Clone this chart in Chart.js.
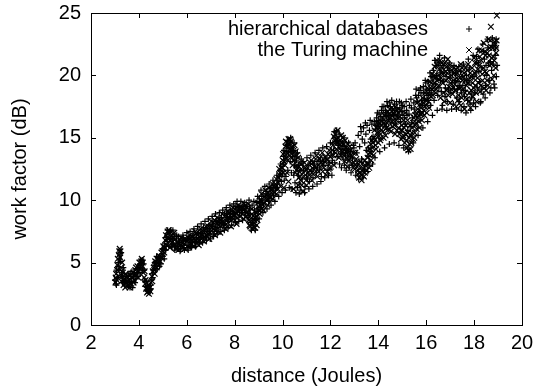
<!DOCTYPE html>
<html>
<head>
<meta charset="utf-8">
<script src="https://cdn.jsdelivr.net/npm/chart.js@4/dist/chart.umd.min.js"></script>
<style>
  html, body { margin: 0; padding: 0; background: #fff; }
  #wrap { width: 536px; height: 391px; }
</style>
</head>
<body>
<div id="wrap"><canvas id="chart" width="536" height="391"></canvas></div>
<script>
// axis setup
const xRange = [2, 20];
const yRange = [0, 25];
const xStep = 2;
const yStep = 5;
const xTitle = 'distance (Joules)';
const yTitle = 'work factor (dB)';
const seriesNames = ['hierarchical databases', 'the Turing machine'];

// "+" series
const hierPoints = [
  [3.0,3.6],[3.04,3.3],[3.07,4.4],[3.11,3.8],[3.14,5.0],[3.17,4.4],[3.21,5.6],[3.24,5.1],[3.28,4.0],[3.31,3.4],[3.35,4.6],[3.38,3.6],[3.42,3.2],[3.46,3.9],
  [3.5,3.3],[3.54,3.7],[3.58,3.1],[3.62,3.4],[3.66,3.9],[3.7,3.5],[3.74,3.0],[3.78,3.9],[3.82,4.1],[3.87,3.7],[3.92,4.5],[3.96,3.9],[4.0,4.6],[4.04,4.2],[4.08,4.8],[4.12,5.0],
  [4.16,4.5],[4.2,4.9],[4.24,3.6],[4.28,3.1],[4.32,2.8],[4.36,3.2],[4.4,2.7],[4.44,2.8],[4.48,3.2],[4.52,3.6],[4.56,4.1],[4.6,4.4],[4.64,4.8],[4.68,4.4],
  [4.72,5.0],[4.76,4.5],[4.8,5.4],[4.84,5.0],[4.88,5.3],[4.92,4.9],[4.96,5.7],[5.0,5.5],[5.04,6.0],[5.08,6.5],[5.12,6.0],[5.15,7.0],[5.18,6.7],[5.22,7.3],[5.25,6.4],[5.29,6.9],[5.32,7.6],[5.36,6.3],[5.4,6.9],[5.44,6.5],[5.48,7.1],[5.52,6.4],[5.57,6.8],
  [5.62,6.3],[5.68,6.5],[5.74,6.1],[5.8,6.9],[5.88,6.4],[5.95,6.8],[6.02,6.2],[6.1,6.8],[6.18,6.6],[6.25,7.2],[6.33,6.7],[6.4,7.0],[6.48,7.4],[6.55,6.9],[6.63,7.3],[6.7,7.8],[6.78,7.1],[6.85,7.5],[6.93,8.0],[7.0,7.3],
  [7.08,7.9],[7.15,7.5],[7.23,8.3],[7.3,7.8],[7.38,8.2],[7.45,8.6],[7.53,8.0],[7.6,8.4],[7.68,8.9],[7.75,8.3],[7.83,8.7],[7.9,9.1],[7.98,8.5],[8.05,9.0],[8.13,9.4],[8.2,8.8],[8.28,9.2],[8.35,9.6],[8.43,9.0],
  [8.5,9.5],[8.57,8.8],[8.62,9.3],[8.68,8.2],[8.73,9.6],[8.78,8.0],[8.83,9.2],[8.88,8.5],[8.93,9.8],[8.98,9.1],[9.03,10.1],[9.08,9.4],[9.13,10.3],[9.2,9.6],[9.27,10.0],[9.34,10.7],[9.41,9.9],[9.48,10.5],[9.55,11.0],[9.62,10.4],[9.7,10.8],[9.78,11.3],
  [9.85,11.6],[9.9,12.4],[9.95,11.5],[10.0,12.1],[10.03,12.9],[10.07,11.6],[10.1,13.2],[10.14,11.9],[10.18,13.9],[10.22,12.4],[10.27,14.2],[10.32,13.1],[10.37,12.2],[10.42,13.5],[10.47,12.0],[10.52,11.4],[10.57,12.6],[10.62,11.0],[10.67,12.0],[10.72,11.3],[10.77,10.8],[10.82,11.7],
  [10.88,12.4],[10.94,11.1],[11.0,12.0],[11.06,12.8],[11.12,11.5],[11.2,12.3],[11.27,11.8],[11.34,12.9],[11.41,12.2],[11.48,13.1],[11.55,12.5],[11.62,11.9],[11.7,12.8],[11.78,13.4],[11.86,12.4],[11.94,13.0],
  [12.02,12.5],[12.08,13.2],[12.13,14.0],[12.18,13.0],[12.23,14.7],[12.28,13.5],[12.33,14.4],[12.38,12.9],[12.43,13.7],[12.48,14.1],[12.53,13.3],[12.58,12.8],[12.63,13.6],[12.68,14.0],[12.73,13.2],[12.78,12.6],[12.85,13.9],[12.92,13.3],[12.98,14.2],
  [13.03,14.6],[13.1,13.8],[13.12,12.9],[13.16,15.2],[13.22,14.3],[13.28,15.5],[13.33,14.9],[13.38,15.8],[13.42,12.5],[13.43,14.6],[13.48,15.3],[13.53,16.0],[13.58,14.2],[13.63,15.6],[13.68,14.9],[13.73,16.1],[13.78,15.1],
  [13.83,16.3],[13.88,15.7],[13.93,16.6],[13.98,15.9],[14.03,16.9],[14.08,16.1],[14.13,17.2],[14.18,16.4],[14.23,17.5],[14.28,16.7],[14.33,15.9],[14.38,17.6],[14.43,16.5],[14.48,17.8],[14.53,16.2],[14.58,17.3],[14.63,16.8],[14.68,17.7],[14.73,16.1],[14.78,17.4],[14.83,16.6],[14.88,17.9],[14.93,16.3],[14.98,17.1],
  [15.03,16.8],[15.08,17.5],[15.13,16.1],[15.18,17.2],[15.23,15.6],[15.28,16.9],[15.33,15.9],[15.38,17.4],[15.43,16.6],[15.48,17.8],[15.53,17.0],[15.58,18.9],[15.63,17.9],[15.68,18.4],[15.73,17.1],[15.78,18.6],[15.83,17.6],[15.88,19.1],[15.93,18.1],[15.98,19.4],[16.03,18.4],[16.08,18.0],[16.13,18.8],[16.18,17.6],
  [16.23,18.6],[16.28,19.8],[16.33,18.0],[16.38,19.3],[16.43,20.0],[16.48,18.4],[16.53,19.0],[16.58,20.2],[16.63,18.7],[16.68,17.6],[16.73,19.5],[16.78,18.3],[16.83,19.9],[16.88,17.9],[16.93,18.9],[16.98,20.4],[17.03,18.6],[17.08,19.4],[17.13,17.7],
  [17.18,18.9],[17.23,20.1],[17.28,18.2],[17.33,19.5],[17.38,17.9],[17.43,20.3],[17.48,18.6],[17.53,19.2],[17.58,17.5],[17.63,18.8],[17.68,20.0],[17.73,18.0],[17.78,19.4],[17.83,17.7],[17.88,18.5],[17.93,19.9],[17.98,17.8],
  [18.03,18.6],[18.08,20.2],[18.13,19.0],[18.18,21.0],[18.23,19.5],[18.28,17.9],[18.33,20.6],[18.38,18.5],[18.43,21.3],[18.48,19.2],[18.53,20.0],[18.58,22.2],[18.63,19.6],[18.68,21.1],[18.73,20.4],[18.78,22.4],[18.83,19.3],[18.88,21.6],[18.93,19.9],[18.96,20.8],
  // band edges
  [3.06,3.2],[3.13,4.7],[3.19,5.3],[3.26,5.8],[3.32,3.9],[3.44,3.5],[3.55,4.1],[3.63,3.0],[3.71,4.3],[3.84,3.4],[3.95,4.2],[4.06,5.2],
  [4.14,5.2],[4.22,4.4],[4.3,3.5],[4.42,3.1],[4.5,2.9],[4.58,3.8],[4.66,5.0],
  [4.74,5.5],[4.86,4.7],[4.98,6.1],[5.06,5.3],[5.14,6.3],[5.2,7.6],[5.28,7.5],[5.34,6.9],[5.42,7.6],[5.5,6.0],[5.58,7.2],
  [5.66,7.1],[5.72,5.9],[5.84,7.2],[5.9,6.0],[6.0,7.4],[6.06,6.0],[6.14,7.5],[6.2,6.2],[6.3,7.7],[6.36,6.3],[6.45,7.9],[6.52,6.5],[6.6,8.1],[6.66,6.6],[6.76,8.3],[6.82,6.8],[6.9,8.5],[6.98,6.9],
  [7.06,8.7],[7.12,7.1],[7.2,8.9],[7.27,7.3],[7.36,9.0],[7.42,7.5],[7.5,9.2],[7.57,7.6],[7.65,9.4],[7.72,7.8],[7.8,9.6],[7.87,8.0],[7.96,9.7],[8.03,8.2],[8.1,9.9],[8.17,8.3],[8.26,9.9],[8.33,8.4],[8.42,9.8],
  [8.52,8.6],[8.6,10.0],[8.7,7.6],[8.8,9.9],[8.86,7.6],[8.96,10.3],[9.02,8.5],[9.1,10.8],[9.18,9.0],[9.26,11.1],[9.35,9.3],[9.44,11.3],[9.52,9.6],[9.6,11.6],[9.68,9.9],[9.76,12.0],
  [9.84,10.3],[9.92,12.9],[9.98,10.6],[10.06,14.0],[10.12,10.8],[10.2,14.8],[10.28,11.0],[10.34,15.0],[10.4,10.9],[10.48,14.6],[10.56,10.6],[10.62,13.8],[10.7,10.5],[10.78,13.3],
  [10.86,13.1],[10.92,10.6],[11.02,13.4],[11.1,10.9],[11.18,13.6],[11.26,11.1],[11.36,13.8],[11.44,11.3],[11.52,14.0],[11.6,11.5],[11.68,14.2],[11.76,11.8],[11.84,14.3],[11.92,12.0],
  [12.0,14.6],[12.06,12.0],[12.16,15.5],[12.26,15.6],[12.36,15.3],[12.46,12.6],[12.56,15.0],[12.66,12.4],[12.76,14.6],[12.86,12.2],[12.96,14.4],
  [13.06,12.0],[13.18,11.7],[13.26,15.9],[13.36,11.8],[13.46,16.2],[13.56,12.3],[13.66,16.4],[13.76,12.9],
  [13.86,13.4],[13.96,17.0],[14.06,13.9],[14.16,17.5],[14.26,14.2],[14.36,17.9],[14.46,14.5],[14.56,18.0],[14.66,14.6],[14.76,17.9],[14.86,14.4],[14.96,17.8],
  [15.06,14.2],[15.16,17.9],[15.26,13.9],[15.36,18.1],[15.46,14.6],[15.56,18.4],[15.66,15.2],[15.76,19.0],[15.86,15.8],[15.96,19.6],[16.06,16.3],[16.16,20.2],
  [16.26,16.8],[16.36,21.2],[16.46,17.2],[16.56,21.6],[16.66,17.3],[16.76,21.4],[16.86,17.2],[16.96,21.0],[17.06,17.3],[17.16,20.8],
  [17.26,17.3],[17.36,20.7],[17.46,17.2],[17.56,20.9],[17.66,17.0],[17.76,21.3],[17.86,17.2],[17.96,21.6],
  [18.06,17.5],[18.16,22.1],[18.26,17.8],[18.36,22.5],[18.46,18.2],[18.56,22.9],[18.66,18.6],[18.76,23.0],[18.86,19.0],[18.92,22.9],
  // band fill
  [5.7,6.6],[5.86,6.8],[6.04,6.9],[6.16,6.3],[6.28,7.0],[6.42,6.6],[6.56,7.3],[6.7,7.0],[6.84,7.7],[6.96,7.6],[7.1,8.1],[7.22,7.7],[7.34,8.4],[7.46,8.1],[7.58,8.9],[7.7,8.6],[7.82,9.2],[7.94,8.9],[8.06,9.5],[8.18,9.4],[8.3,9.0],[8.4,9.5],
  [8.64,8.9],[8.76,8.5],[8.86,8.9],[8.94,9.3],[9.06,9.9],[9.16,9.8],[9.3,10.5],[9.4,10.4],[9.5,10.9],[9.64,11.2],[9.74,11.0],
  [9.88,11.9],[9.98,12.7],[10.04,13.5],[10.16,14.4],[10.24,13.8],[10.3,14.6],[10.36,13.9],[10.44,14.0],[10.5,12.8],[10.58,13.2],[10.66,12.8],[10.74,12.4],
  [11.04,11.7],[11.16,12.9],[11.3,12.6],[11.46,12.6],[11.58,13.2],[11.72,13.1],[11.9,12.8],
  [12.1,14.6],[12.2,15.0],[12.3,14.8],[12.4,14.4],[12.5,14.6],[12.6,14.3],[12.7,13.8],[12.82,13.5],[12.94,12.8],
  [13.3,13.3],[13.5,14.0],[13.6,13.5],[13.7,13.9],
  [13.9,16.0],[14.0,16.4],[14.1,16.7],[14.2,17.0],[14.3,17.2],[14.4,16.8],[14.5,17.5],[14.6,17.0],[14.7,17.2],[14.8,16.9],[14.9,17.4],[15.0,17.6],
  [15.1,16.6],[15.2,16.8],[15.3,17.6],[15.4,16.2],[15.5,17.3],[15.6,18.2],[15.7,18.8],[15.8,18.0],[15.9,18.6],[16.0,18.9],[16.1,19.5],[16.2,19.9],
  [16.3,20.4],[16.4,20.8],[16.5,21.0],[16.6,19.6],[16.7,20.8],[16.8,19.0],[16.9,20.6],[17.0,19.8],[17.1,20.2],[17.2,19.6],
  [17.3,18.9],[17.4,19.2],[17.5,19.9],[17.6,18.3],[17.7,19.6],[17.8,20.6],[17.9,18.2],[18.0,19.9],
  [18.1,21.5],[18.2,20.3],[18.3,18.9],[18.4,21.9],[18.5,20.8],[18.6,21.0],[18.7,19.0],[18.8,20.9],[18.9,22.2]
];

// "x" series
const turingPoints = [
  [3.02,3.4],[3.05,4.1],[3.08,3.6],[3.1,4.8],[3.12,5.3],[3.15,3.9],[3.18,5.9],[3.2,6.1],[3.22,5.4],[3.25,4.6],[3.27,3.5],[3.3,5.0],[3.33,4.2],[3.36,3.2],[3.4,3.7],[3.43,3.0],[3.47,3.4],
  [3.52,3.9],[3.56,3.2],[3.6,3.6],[3.64,4.0],[3.68,3.3],[3.72,3.8],[3.76,4.2],[3.8,3.6],[3.85,4.4],[3.9,4.0],[3.94,4.7],[3.98,4.3],[4.02,5.0],[4.06,4.5],[4.1,5.1],
  [4.14,4.7],[4.18,4.2],[4.22,3.8],[4.26,3.3],[4.3,2.9],[4.34,2.6],[4.38,2.7],[4.42,2.5],[4.46,3.0],[4.5,3.4],[4.54,3.9],[4.58,4.3],[4.62,4.6],[4.66,4.1],[4.7,4.9],
  [4.74,4.6],[4.78,5.2],[4.82,4.8],[4.86,5.5],[4.9,5.1],[4.94,5.8],[4.98,5.4],[5.02,6.3],[5.06,5.8],[5.1,6.8],[5.13,7.2],[5.16,6.4],[5.2,7.5],[5.23,6.9],[5.27,7.4],[5.3,6.2],[5.34,7.1],[5.38,6.6],[5.42,7.3],[5.46,6.3],[5.5,6.9],[5.55,6.1],[5.6,6.6],
  [5.65,6.0],[5.7,6.8],[5.78,6.3],[5.85,6.6],[5.92,6.1],[6.0,6.7],[6.08,6.4],[6.15,7.0],[6.22,6.5],[6.3,6.9],[6.38,7.3],[6.45,6.7],[6.52,7.1],[6.6,7.5],[6.68,7.0],[6.75,7.6],[6.82,7.2],[6.9,7.9],[6.97,7.4],
  [7.05,7.8],[7.12,8.2],[7.2,7.6],[7.28,8.1],[7.35,8.5],[7.42,7.9],[7.5,8.3],[7.58,8.7],[7.65,8.1],[7.72,8.6],[7.8,9.0],[7.88,8.4],[7.95,8.8],[8.02,9.3],[8.1,8.6],[8.18,9.1],[8.25,9.5],[8.32,8.9],[8.4,9.3],[8.48,8.7],
  [8.55,9.1],[8.6,8.4],[8.65,7.9],[8.7,8.6],[8.75,7.7],[8.8,8.2],[8.85,7.8],[8.9,9.0],[8.95,8.4],[9.0,9.5],[9.05,8.9],[9.1,10.0],[9.15,9.3],[9.22,9.8],[9.3,10.4],[9.38,9.6],[9.45,10.2],[9.52,10.8],[9.6,10.1],[9.68,11.0],[9.75,10.5],[9.82,11.4],
  [9.88,12.0],[9.92,11.1],[9.96,12.6],[10.0,13.2],[10.04,12.2],[10.05,11.0],[10.08,13.8],[10.12,14.3],[10.16,13.4],[10.2,14.6],[10.25,14.9],[10.25,11.5],[10.3,14.1],[10.35,14.7],[10.4,13.7],[10.45,14.3],[10.45,10.9],[10.5,13.2],[10.55,13.9],[10.6,12.8],[10.65,13.4],[10.65,11.2],[10.7,12.3],[10.75,11.6],[10.8,12.9],[10.85,10.7],
  [10.9,11.9],[10.95,12.6],[11.0,11.2],[11.08,12.2],[11.15,13.0],[11.22,11.6],[11.3,12.5],[11.38,13.3],[11.45,11.9],[11.52,12.8],[11.6,13.5],[11.68,12.3],[11.75,13.1],[11.82,12.0],[11.9,13.7],[11.97,12.6],
  [12.05,13.6],[12.1,14.4],[12.15,12.8],[12.2,15.3],[12.25,14.1],[12.3,15.6],[12.35,13.4],[12.4,14.8],[12.45,15.2],[12.5,13.9],[12.55,14.5],[12.6,13.1],[12.65,14.2],[12.7,12.7],[12.75,13.6],[12.8,14.3],[12.88,12.9],[12.95,13.8],
  [13.02,12.5],[13.08,13.3],[13.14,12.1],[13.2,11.8],[13.25,12.6],[13.3,11.6],[13.35,12.3],[13.4,11.9],[13.45,12.8],[13.5,12.4],[13.55,13.4],[13.6,12.9],[13.65,13.8],[13.7,13.2],[13.75,14.2],
  [13.8,13.6],[13.85,14.8],[13.9,14.1],[13.95,15.4],[14.0,14.6],[14.05,15.8],[14.1,15.0],[14.15,16.3],[14.2,15.5],[14.25,16.8],[14.3,15.2],[14.35,16.2],[14.4,17.1],[14.45,15.7],[14.5,16.6],[14.55,17.4],[14.6,15.9],[14.65,16.9],[14.7,15.3],[14.75,16.4],[14.8,17.2],[14.85,15.8],[14.9,16.7],[14.95,14.9],
  [15.0,15.6],[15.05,16.4],[15.1,14.6],[15.15,15.3],[15.2,14.2],[15.25,14.0],[15.3,14.5],[15.35,14.1],[15.4,15.4],[15.45,16.2],[15.5,15.0],[15.55,16.8],[15.6,15.7],[15.65,17.3],[15.7,16.3],[15.75,17.7],[15.8,16.9],[15.85,18.2],[15.9,17.2],[15.95,18.6],[16.0,17.6],[16.05,19.0],[16.1,17.9],[16.15,19.5],[16.2,18.3],
  [16.25,20.1],[16.3,19.0],[16.35,20.7],[16.4,18.6],[16.45,21.2],[16.5,19.7],[16.55,20.5],[16.6,18.2],[16.65,21.0],[16.7,19.4],[16.75,17.9],[16.8,20.3],[16.85,18.8],[16.9,21.3],[16.95,19.1],[17.0,17.8],[17.05,20.0],[17.1,18.5],[17.15,20.6],
  [17.2,19.3],[17.25,17.5],[17.3,20.2],[17.35,18.4],[17.4,19.8],[17.45,17.6],[17.5,20.6],[17.55,18.9],[17.6,17.3],[17.65,19.6],[17.7,18.1],[17.75,20.9],[17.8,18.6],[17.85,17.4],[17.9,19.9],[17.95,18.3],
  [18.0,21.4],[18.05,19.2],[18.1,17.9],[18.15,20.5],[18.2,22.0],[18.25,18.7],[18.3,21.2],[18.35,19.6],[18.4,22.6],[18.45,20.3],[18.5,18.8],[18.55,21.8],[18.6,22.9],[18.65,20.8],[18.7,22.3],[18.75,19.7],[18.8,21.5],[18.85,22.7],[18.9,20.6],[18.7,23.9],[18.95,24.8],
  // band body
  [3.03,3.8],[3.09,4.4],[3.16,5.6],[3.23,5.9],[3.29,4.3],[3.35,3.6],[3.45,4.1],[3.53,3.5],[3.61,3.0],[3.69,4.1],[3.78,3.4],[3.88,4.6],[3.97,3.8],[4.05,4.7],[4.12,5.3],
  [4.16,5.0],[4.24,4.3],[4.28,3.6],[4.36,2.9],[4.4,3.2],[4.48,2.7],[4.56,3.5],[4.64,4.4],[4.68,5.1],
  [4.8,5.0],[4.92,5.4],[5.0,5.9],[5.08,6.2],[5.18,7.0],[5.25,7.6],[5.32,6.8],[5.4,6.4],[5.48,7.4],[5.58,6.3],
  [5.68,6.5],[5.76,7.0],[5.82,6.2],[5.96,6.9],[6.04,6.3],[6.12,7.2],[6.2,6.8],[6.28,6.3],[6.36,7.5],[6.44,6.9],[6.5,6.4],[6.58,7.7],[6.64,7.2],[6.72,6.7],[6.8,7.9],[6.88,7.3],[6.94,6.9],
  [7.02,8.3],[7.1,7.7],[7.18,7.2],[7.26,8.6],[7.32,8.0],[7.4,7.4],[7.48,8.9],[7.55,8.2],[7.62,7.7],[7.7,9.1],[7.78,8.5],[7.85,7.9],[7.92,9.4],[8.0,8.8],[8.08,8.1],[8.15,9.6],[8.22,8.7],[8.3,9.4],[8.38,8.5],[8.45,9.6],
  [8.52,9.4],[8.58,9.7],[8.66,8.3],[8.72,9.3],[8.78,7.9],[8.84,8.6],[8.92,8.0],[8.98,9.8],[9.06,9.6],[9.12,10.5],[9.2,9.2],[9.28,10.8],[9.36,10.0],[9.43,11.0],[9.5,10.2],[9.58,11.3],[9.66,10.6],[9.74,11.7],[9.8,10.9],
  [9.86,12.5],[9.94,12.1],[10.02,13.7],[10.1,12.8],[10.14,14.7],[10.18,12.2],[10.22,14.3],[10.28,13.6],[10.32,14.9],[10.38,14.2],[10.42,12.8],[10.5,14.4],[10.54,12.2],[10.6,13.6],[10.68,11.8],[10.74,12.9],[10.8,11.2],
  [10.86,12.2],[10.92,13.0],[10.98,11.6],[11.04,12.6],[11.12,12.0],[11.2,13.2],[11.28,12.1],[11.35,12.7],[11.42,13.6],[11.5,12.3],[11.58,13.0],[11.66,13.8],[11.72,12.6],[11.8,13.4],[11.88,12.3],[11.95,14.0],
  [12.02,13.0],[12.12,13.6],[12.18,14.8],[12.22,13.8],[12.28,14.6],[12.32,15.0],[12.38,14.2],[12.42,13.6],[12.48,14.6],[12.52,15.0],[12.58,14.0],[12.62,14.8],[12.68,13.4],[12.72,14.5],[12.78,13.2],[12.84,14.0],[12.9,13.5],[12.98,13.0],
  [13.04,13.8],[13.1,12.7],[13.16,12.4],[13.22,12.2],[13.28,12.0],[13.32,12.9],[13.38,12.5],[13.44,12.2],[13.52,13.0],[13.58,13.7],[13.62,12.6],[13.68,14.5],[13.72,13.7],[13.78,14.6],
  [13.82,15.0],[13.88,14.4],[13.92,15.8],[13.98,15.1],[14.02,16.2],[14.08,14.8],[14.12,15.6],[14.18,16.6],[14.22,15.0],[14.28,16.0],[14.32,16.9],[14.38,15.6],[14.42,16.4],[14.48,17.3],[14.52,15.5],[14.58,16.3],[14.62,17.0],[14.68,16.0],[14.72,17.5],[14.78,15.6],[14.82,16.6],[14.88,15.3],[14.92,17.2],[14.98,16.0],
  [15.02,15.0],[15.08,15.8],[15.12,17.0],[15.18,14.8],[15.22,16.4],[15.28,15.0],[15.32,16.0],[15.38,14.6],[15.42,15.8],[15.48,16.6],[15.52,15.4],[15.58,16.2],[15.62,17.8],[15.68,16.8],[15.72,15.8],[15.78,17.4],[15.82,16.4],[15.88,17.8],[15.92,16.8],[15.98,18.0],[16.02,17.0],[16.08,18.6],[16.12,17.4],[16.18,19.0],
  [16.22,19.4],[16.28,18.4],[16.32,20.0],[16.38,19.8],[16.42,18.9],[16.48,20.8],[16.52,19.2],[16.58,21.2],[16.62,19.8],[16.68,20.6],[16.72,18.6],[16.78,21.0],[16.82,19.6],[16.88,20.2],[16.92,18.4],[16.98,20.8],[17.02,19.4],[17.08,20.4],[17.12,19.0],[17.18,20.2],
  [17.22,18.8],[17.28,19.8],[17.32,18.0],[17.38,20.4],[17.42,19.0],[17.48,18.2],[17.52,19.6],[17.58,20.2],[17.62,18.6],[17.68,19.2],[17.72,20.4],[17.78,17.9],[17.82,19.8],[17.88,18.8],[17.92,20.6],[17.98,19.0],
  [18.02,20.2],[18.08,18.6],[18.12,21.0],[18.18,19.4],[18.22,20.8],[18.28,19.2],[18.32,22.0],[18.38,20.6],[18.42,19.0],[18.48,21.6],[18.52,20.2],[18.58,19.2],[18.62,21.6],[18.68,22.8],[18.72,20.9],[18.78,22.2],[18.82,20.0],[18.88,22.5],[18.92,21.8],[18.94,22.8],
  // band fill
  [5.74,6.4],[5.9,6.9],[6.06,7.0],[6.24,7.1],[6.4,7.4],[6.54,6.8],[6.7,7.5],[6.86,7.1],[7.0,7.9],[7.16,8.4],[7.3,7.5],[7.44,8.4],[7.6,8.0],[7.74,8.9],[7.9,8.6],[8.04,9.0],[8.2,9.3],[8.36,9.2],[8.5,9.0],
  [8.62,8.0],[8.72,8.9],[8.82,8.4],[8.92,8.7],[9.02,9.2],[9.14,9.9],[9.26,10.3],[9.4,10.1],[9.54,10.6],[9.7,11.3],[9.84,11.8],
  [9.9,12.2],[10.0,12.6],[10.06,13.1],[10.14,13.6],[10.22,13.2],[10.28,14.5],[10.36,14.0],[10.44,13.2],[10.52,13.6],[10.58,12.4],[10.64,12.6],[10.72,11.9],[10.78,12.5],
  [11.0,12.4],[11.14,12.4],[11.26,13.0],[11.4,12.6],[11.54,13.3],[11.7,12.9],[11.86,13.2],[11.98,13.5],
  [12.08,14.0],[12.14,15.1],[12.24,14.9],[12.34,14.6],[12.44,14.0],[12.54,13.6],[12.64,13.9],[12.74,14.0],[12.86,13.6],[12.96,12.6],
  [13.12,13.0],[13.26,13.1],[13.42,13.2],[13.54,12.9],[13.64,14.1],[13.74,14.8],
  [13.84,15.6],[13.94,16.2],[14.04,15.4],[14.14,16.0],[14.24,16.2],[14.34,15.8],[14.44,16.9],[14.54,16.8],[14.64,16.4],[14.74,16.8],[14.84,17.0],[14.94,15.6],
  [15.04,15.2],[15.14,16.0],[15.24,15.4],[15.34,15.2],[15.44,14.9],[15.54,16.0],[15.64,16.6],[15.74,16.9],[15.84,17.0],[15.94,17.5],[16.04,18.0],[16.14,18.4],
  [16.24,18.9],[16.34,19.4],[16.44,19.6],[16.54,20.0],[16.64,20.2],[16.74,20.2],[16.84,20.7],[16.94,19.8],[17.04,18.9],[17.14,19.6],
  [17.24,20.5],[17.34,19.0],[17.44,20.9],[17.54,19.9],[17.64,20.6],[17.74,19.4],[17.84,20.2],[17.94,19.4],
  [18.04,21.0],[18.14,19.8],[18.24,21.5],[18.34,20.1],[18.44,21.9],[18.54,19.6],[18.64,22.2],[18.74,21.4],[18.84,21.2],[18.92,22.2]
];

const FONT = 'Liberation Sans, Arial, Helvetica, sans-serif';

// gnuplot-like frame with inward ticks on every side
const framePlugin = {
  id: 'frame',
  afterDraw(chart) {
    const { ctx, chartArea: a, scales } = chart;
    const tick = 5;
    ctx.save();
    ctx.strokeStyle = '#000';
    ctx.lineWidth = 1;
    ctx.beginPath();
    scales.x.ticks.forEach(t => {
      const px = Math.round(scales.x.getPixelForValue(t.value)) + 0.5;
      ctx.moveTo(px, a.bottom); ctx.lineTo(px, a.bottom - tick);
      ctx.moveTo(px, a.top); ctx.lineTo(px, a.top + tick);
    });
    scales.y.ticks.forEach(t => {
      const py = Math.round(scales.y.getPixelForValue(t.value)) + 0.5;
      ctx.moveTo(a.left, py); ctx.lineTo(a.left + tick, py);
      ctx.moveTo(a.right, py); ctx.lineTo(a.right - tick, py);
    });
    ctx.stroke();
    ctx.strokeRect(Math.round(a.left) + 0.5, Math.round(a.top) + 0.5,
      Math.round(a.right - a.left), Math.round(a.bottom - a.top));
    ctx.restore();
  }
};

// key in the top right: text, then the symbol
const keyPlugin = {
  id: 'key',
  afterDraw(chart) {
    const { ctx } = chart;
    ctx.save();
    ctx.font = '20px ' + FONT;
    ctx.fillStyle = '#000';
    ctx.textAlign = 'right';
    ctx.textBaseline = 'middle';
    chart.data.datasets.forEach((ds, i) => {
      const y = 29 + i * 21;
      ctx.fillText(ds.label, 428, y);
      ctx.strokeStyle = '#000';
      ctx.lineWidth = 1;
      Chart.helpers.drawPoint(ctx, { pointStyle: ds.pointStyle, radius: ds.pointRadius, borderWidth: 1 }, 469, y);
    });
    ctx.restore();
  }
};

const toXY = pts => pts.map(p => ({ x: p[0], y: p[1] }));

new Chart(document.getElementById('chart'), {
  type: 'scatter',
  data: {
    datasets: [
      {
        label: seriesNames[0],
        data: toXY(hierPoints),
        pointStyle: 'cross',
        pointRadius: 3,
        borderColor: '#000',
        backgroundColor: '#000',
        borderWidth: 1.2
      },
      {
        label: seriesNames[1],
        data: toXY(turingPoints),
        pointStyle: 'crossRot',
        pointRadius: 4,
        borderColor: '#000',
        backgroundColor: '#000',
        borderWidth: 1.2
      }
    ]
  },
  options: {
    responsive: false,
    animation: false,
    devicePixelRatio: 1,
    clip: false,
    layout: { padding: { left: 0, right: 14, top: 13, bottom: 0 } },
    plugins: {
      legend: { display: false },
      tooltip: { enabled: false }
    },
    scales: {
      x: {
        type: 'linear',
        min: xRange[0],
        max: xRange[1],
        ticks: {
          stepSize: xStep,
          color: '#000',
          font: { family: FONT, size: 20 },
          padding: 6,
          maxRotation: 0
        },
        grid: { display: false, drawTicks: false },
        border: { display: false },
        title: {
          display: true,
          text: xTitle,
          color: '#000',
          font: { family: FONT, size: 20 },
          padding: { top: 0, bottom: 3 }
        },
        afterFit(scale) {
          scale.height = 66;
          scale.paddingLeft = 0;
          scale.paddingRight = 0;
        }
      },
      y: {
        type: 'linear',
        min: yRange[0],
        max: yRange[1],
        ticks: {
          stepSize: yStep,
          color: '#000',
          font: { family: FONT, size: 20 },
          padding: 10
        },
        grid: { display: false, drawTicks: false },
        border: { display: false },
        title: {
          display: true,
          text: yTitle,
          color: '#000',
          font: { family: FONT, size: 20 },
          padding: { top: 8, bottom: 0 }
        },
        afterFit(scale) {
          scale.width = 91;
          scale.paddingTop = 0;
          scale.paddingBottom = 0;
        }
      }
    }
  },
  plugins: [framePlugin, keyPlugin]
});
</script>
</body>
</html>
